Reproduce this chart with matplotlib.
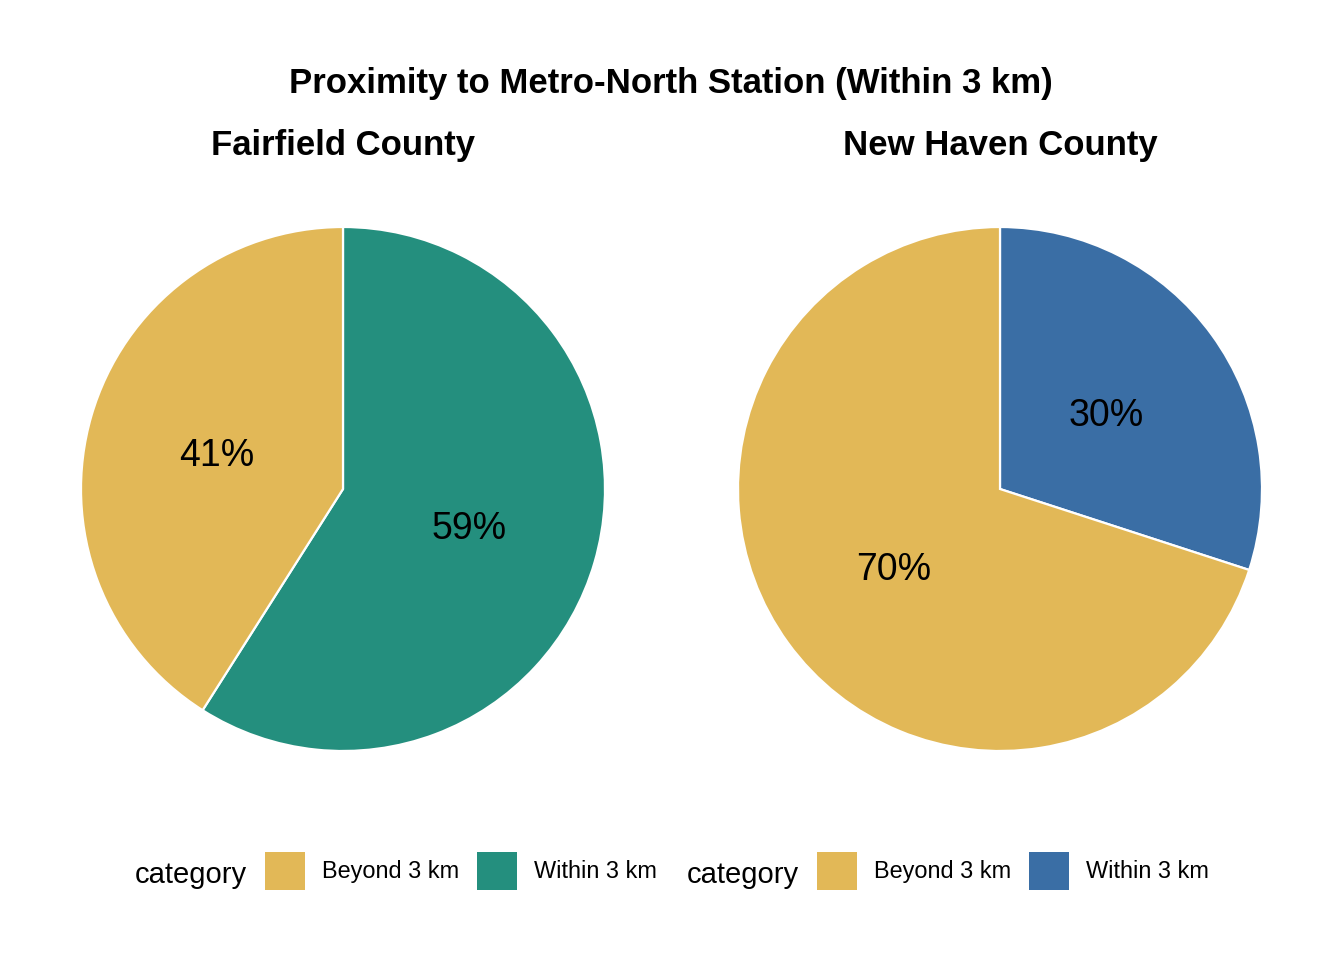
import matplotlib
matplotlib.use("Agg")
import matplotlib.pyplot as plt
from matplotlib.patches import Patch
import numpy as np

plt.rcParams['font.family'] = ['Liberation Sans', 'DejaVu Sans']

title = "Proximity to Metro-North Station (Within 3 km)"
counties = ["Fairfield County", "New Haven County"]
categories = ["Within 3 km", "Beyond 3 km"]
shares = [[59, 41], [30, 70]]
colors_by_county = [["#248F7E", "#E2B857"], ["#3A6EA5", "#E2B857"]]
legend_order = ["Beyond 3 km", "Within 3 km"]

W, H = 1344, 960
fig = plt.figure(figsize=(W / 100, H / 100), dpi=100)
fig.patch.set_facecolor("white")

centers = [(343, 489), (1000, 489)]
R = 262

for i, county in enumerate(counties):
    cx, cy = centers[i]
    ax = fig.add_axes([(cx - R) / W, (H - cy - R) / H, 2 * R / W, 2 * R / H])
    wedges, _ = ax.pie(shares[i], colors=colors_by_county[i], startangle=90,
                       counterclock=False, radius=1,
                       wedgeprops=dict(edgecolor="white", linewidth=1.6))
    for w, v in zip(wedges, shares[i]):
        mid = np.deg2rad((w.theta1 + w.theta2) / 2)
        ax.text(0.5 * np.cos(mid), 0.5 * np.sin(mid) - 0.015, f"{v}%",
                ha="center", va="center", fontsize=27)
    ax.set_xlim(-1, 1)
    ax.set_ylim(-1, 1)
    ax.set_aspect("equal")
    ax.axis("off")
    fig.text(cx / W, 1 - 145 / H, county, ha="center", va="center",
             fontsize=25, fontweight="bold")

    # legend
    lx = [135, 687][i]
    fig.text(lx / W, 1 - 875 / H, "category", ha="left", va="center", fontsize=21)
    cmap = dict(zip(categories, colors_by_county[i]))
    handles = [Patch(facecolor=cmap[c], edgecolor="none") for c in legend_order]
    fig.legend(handles, legend_order, loc="center left",
               bbox_to_anchor=((lx + 130) / W, 1 - 871 / H), ncol=2,
               frameon=False, fontsize=16.9, handlelength=1.70,
               handleheight=2.11, handletextpad=0.72, columnspacing=0.77,
               borderpad=0, borderaxespad=0)

fig.text(671 / W, 1 - 83 / H, title, ha="center", va="center",
         fontsize=25, fontweight="bold")

fig.savefig("out.png", dpi=100, facecolor="white")
